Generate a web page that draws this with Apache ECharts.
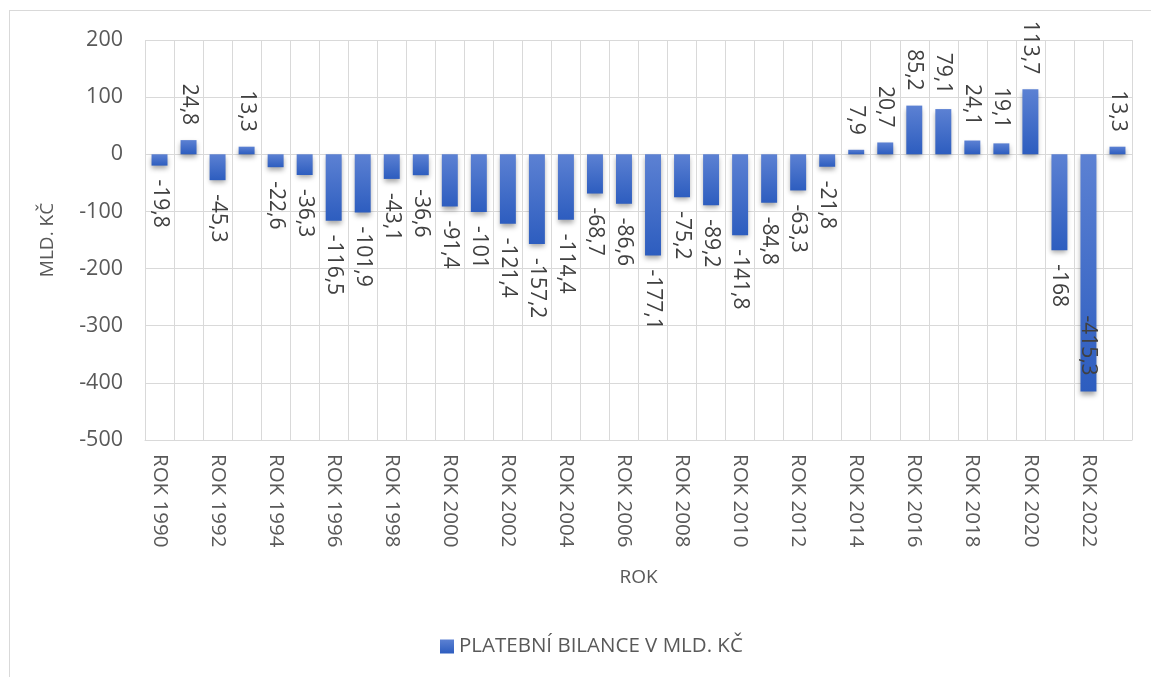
<!DOCTYPE html>
<html>
<head>
<meta charset="utf-8">
<script src="https://cdn.jsdelivr.net/npm/echarts@6/dist/echarts.min.js"></script>
<style>
  html, body { margin: 0; padding: 0; background: #fff; }
  #frame {
    position: absolute; left: 9px; top: 10px; width: 1160px; height: 700px;
    border: 1px solid #d9d9d9; box-sizing: border-box;
  }
  #chart { position: absolute; left: 0; top: 0; width: 1151px; height: 677px; }
</style>
</head>
<body>
<div id="frame"></div>
<div id="chart"></div>
<script>
const years = [1990, 1991, 1992, 1993, 1994, 1995, 1996, 1997, 1998, 1999,
  2000, 2001, 2002, 2003, 2004, 2005, 2006, 2007, 2008, 2009,
  2010, 2011, 2012, 2013, 2014, 2015, 2016, 2017, 2018, 2019,
  2020, 2021, 2022, 2023]
const categories = years.map(y => 'ROK ' + y)
const balance = [-19.8, 24.8, -45.3, 13.3, -22.6, -36.3, -116.5, -101.9, -43.1, -36.6,
  -91.4, -101, -121.4, -157.2, -114.4, -68.7, -86.6, -177.1, -75.2, -89.2,
  -141.8, -84.8, -63.3, -21.8, 7.9, 20.7, 85.2, 79.1, 24.1, 19.1,
  113.7, -168, -415.3, 13.3]
const yTicks = { min: -500, max: 200, step: 100 }
const seriesName = 'PLATEBNÍ BILANCE V MLD. KČ'

const font = '"Open Sans", "Noto Sans", sans-serif'
const barColor = new echarts.graphic.LinearGradient(0, 0, 0, 1, [
  { offset: 0, color: '#5c81d3' },
  { offset: 1, color: '#2d5dbf' }
])

// label placement: positives above, negatives below, the big one inside the end
const barData = balance.map(v => {
  let label
  if (v >= 0) {
    label = { position: 'top', align: 'right', distance: 15 }
  } else if (v < -300) {
    label = { position: 'insideBottom', align: 'right', distance: 16 }
  } else {
    label = { position: 'bottom', align: 'left', distance: 14 }
  }
  return { value: v, label }
})

const chart = echarts.init(document.getElementById('chart'))

chart.setOption({
  animation: false,
  textStyle: { fontFamily: font },
  grid: { left: 145, right: 19, top: 40, bottom: 237 },
  legend: {
    data: [seriesName],
    left: 435,
    top: 631,
    itemWidth: 14,
    itemHeight: 14,
    itemGap: 6,
    icon: 'rect',
    textStyle: { color: '#595959', fontSize: 20.5, fontFamily: font }
  },
  xAxis: {
    type: 'category',
    data: categories,
    name: 'ROK',
    nameLocation: 'middle',
    nameGap: 128,
    nameTextStyle: { color: '#595959', fontSize: 19 },
    axisLine: { onZero: false, lineStyle: { color: '#d9d9d9', width: 1 } },
    axisTick: { show: false },
    axisLabel: {
      interval: 1,
      rotate: -90,
      margin: 14,
      color: '#595959',
      fontSize: 20.5
    },
    splitLine: { show: true, interval: 0, lineStyle: { color: '#d9d9d9', width: 1 } }
  },
  yAxis: {
    type: 'value',
    min: yTicks.min,
    max: yTicks.max,
    interval: yTicks.step,
    name: 'MLD. KČ',
    nameLocation: 'middle',
    nameGap: 88,
    nameTextStyle: { color: '#595959', fontSize: 19 },
    axisLine: { show: false },
    axisTick: { show: false },
    axisLabel: { color: '#595959', fontSize: 21.5, margin: 22 },
    splitLine: { lineStyle: { color: '#d9d9d9', width: 1 } }
  },
  series: [{
    name: seriesName,
    type: 'bar',
    data: barData,
    barWidth: '55%',
    itemStyle: {
      color: barColor,
      shadowColor: 'rgba(0,0,0,0.35)',
      shadowBlur: 5,
      shadowOffsetY: 3
    },
    label: {
      show: true,
      rotate: -90,
      verticalAlign: 'middle',
      color: '#404040',
      fontSize: 21,
      fontFamily: font,
      formatter: p => String(p.value).replace('.', ',')
    }
  }]
})
</script>
</body>
</html>
